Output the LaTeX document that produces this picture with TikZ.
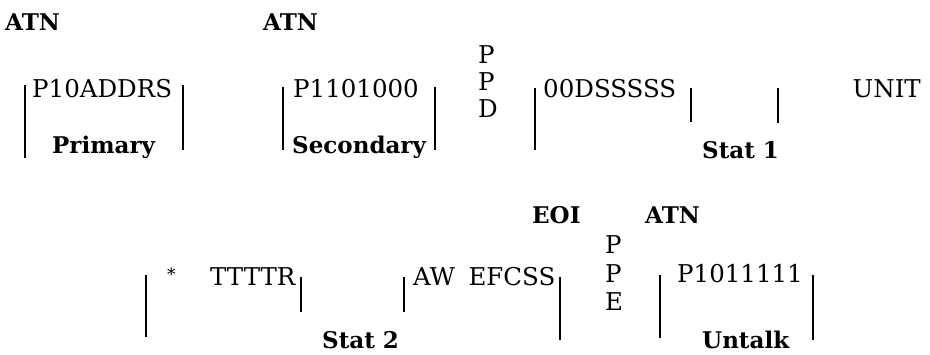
\documentclass[tikz,border=0pt]{standalone}
\usepackage{fontspec}
\setmainfont{DejaVu Serif}
\usetikzlibrary{calc}
\newcommand*{\BarWidth}{2.8pt}

\begin{document}
\begin{tikzpicture}
	[x=1pt,y=-1pt,
	 bittext/.style={inner sep=0pt, anchor=base west, font=\fontsize{24.5}{27}\selectfont},
	 tagtext/.style={inner sep=0pt, anchor=base west, font=\fontsize{23}{27}\selectfont\bfseries},
	 bar/.style={line width=\BarWidth}]
	\useasboundingbox (0,0) rectangle (930,354);

	%first line
	\node[tagtext] (atnA) at (5,30) {ATN};
	\node[tagtext] (atnB) at (263,30) {ATN};
	\node[bittext] (primbits) at (32,97) {P10ADDRS};
	\node[bittext] (secbits) at (293,97) {P1101000};
	\node[bittext] (statAbits) at (543,97) {00DSSSSS};
	\node[bittext, anchor=base east] (unit) at (921,97) {UNIT};
	\foreach \c [count=\i] in {P,P,D}
		\node[bittext] (ppd\i) at (478,{36+27*\i}) {\c};
	\node[tagtext] (primary) at (52,153) {Primary};
	\node[tagtext] (secondary) at (292,153) {Secondary};
	\node[tagtext] (statA) at (702,158) {Stat 1};

	%second line
	\node[tagtext] (eoi) at (532,223) {EOI};
	\node[tagtext] (atnC) at (645,223) {ATN};
	\foreach \c [count=\i] in {P,P,E}
		\node[bittext] (ppe\i) at (605,{225+28.5*\i}) {\c};
	\node[bittext, font=\fontsize{17}{20}\selectfont] (star) at (167,280) {*};
	\node[bittext] (statBbits) at (210,285) {TTTTR};
	\node[bittext] (statCbits) at (413,285) {AW\hspace{0.55em}EFCSS};
	\node[bittext] (untbits) at (677,282) {P1011111};
	\node[tagtext] (statB) at (322,348) {Stat 2};
	\node[tagtext] (untalk) at (702,348) {Untalk};

	%bars
	\foreach \x/\top/\bot in {25/85/158, 183/85/150, 283/87/150, 435/87/150, 535/88/150, 691/88/122, 778/88/123,
		146/275/337, 301/277/312, 404/277/312, 560/277/340, 660/275/338, 813/275/340}
	{
		\draw[bar] (\x,\top) -- (\x,\bot);
	}
\end{tikzpicture}
\end{document}
